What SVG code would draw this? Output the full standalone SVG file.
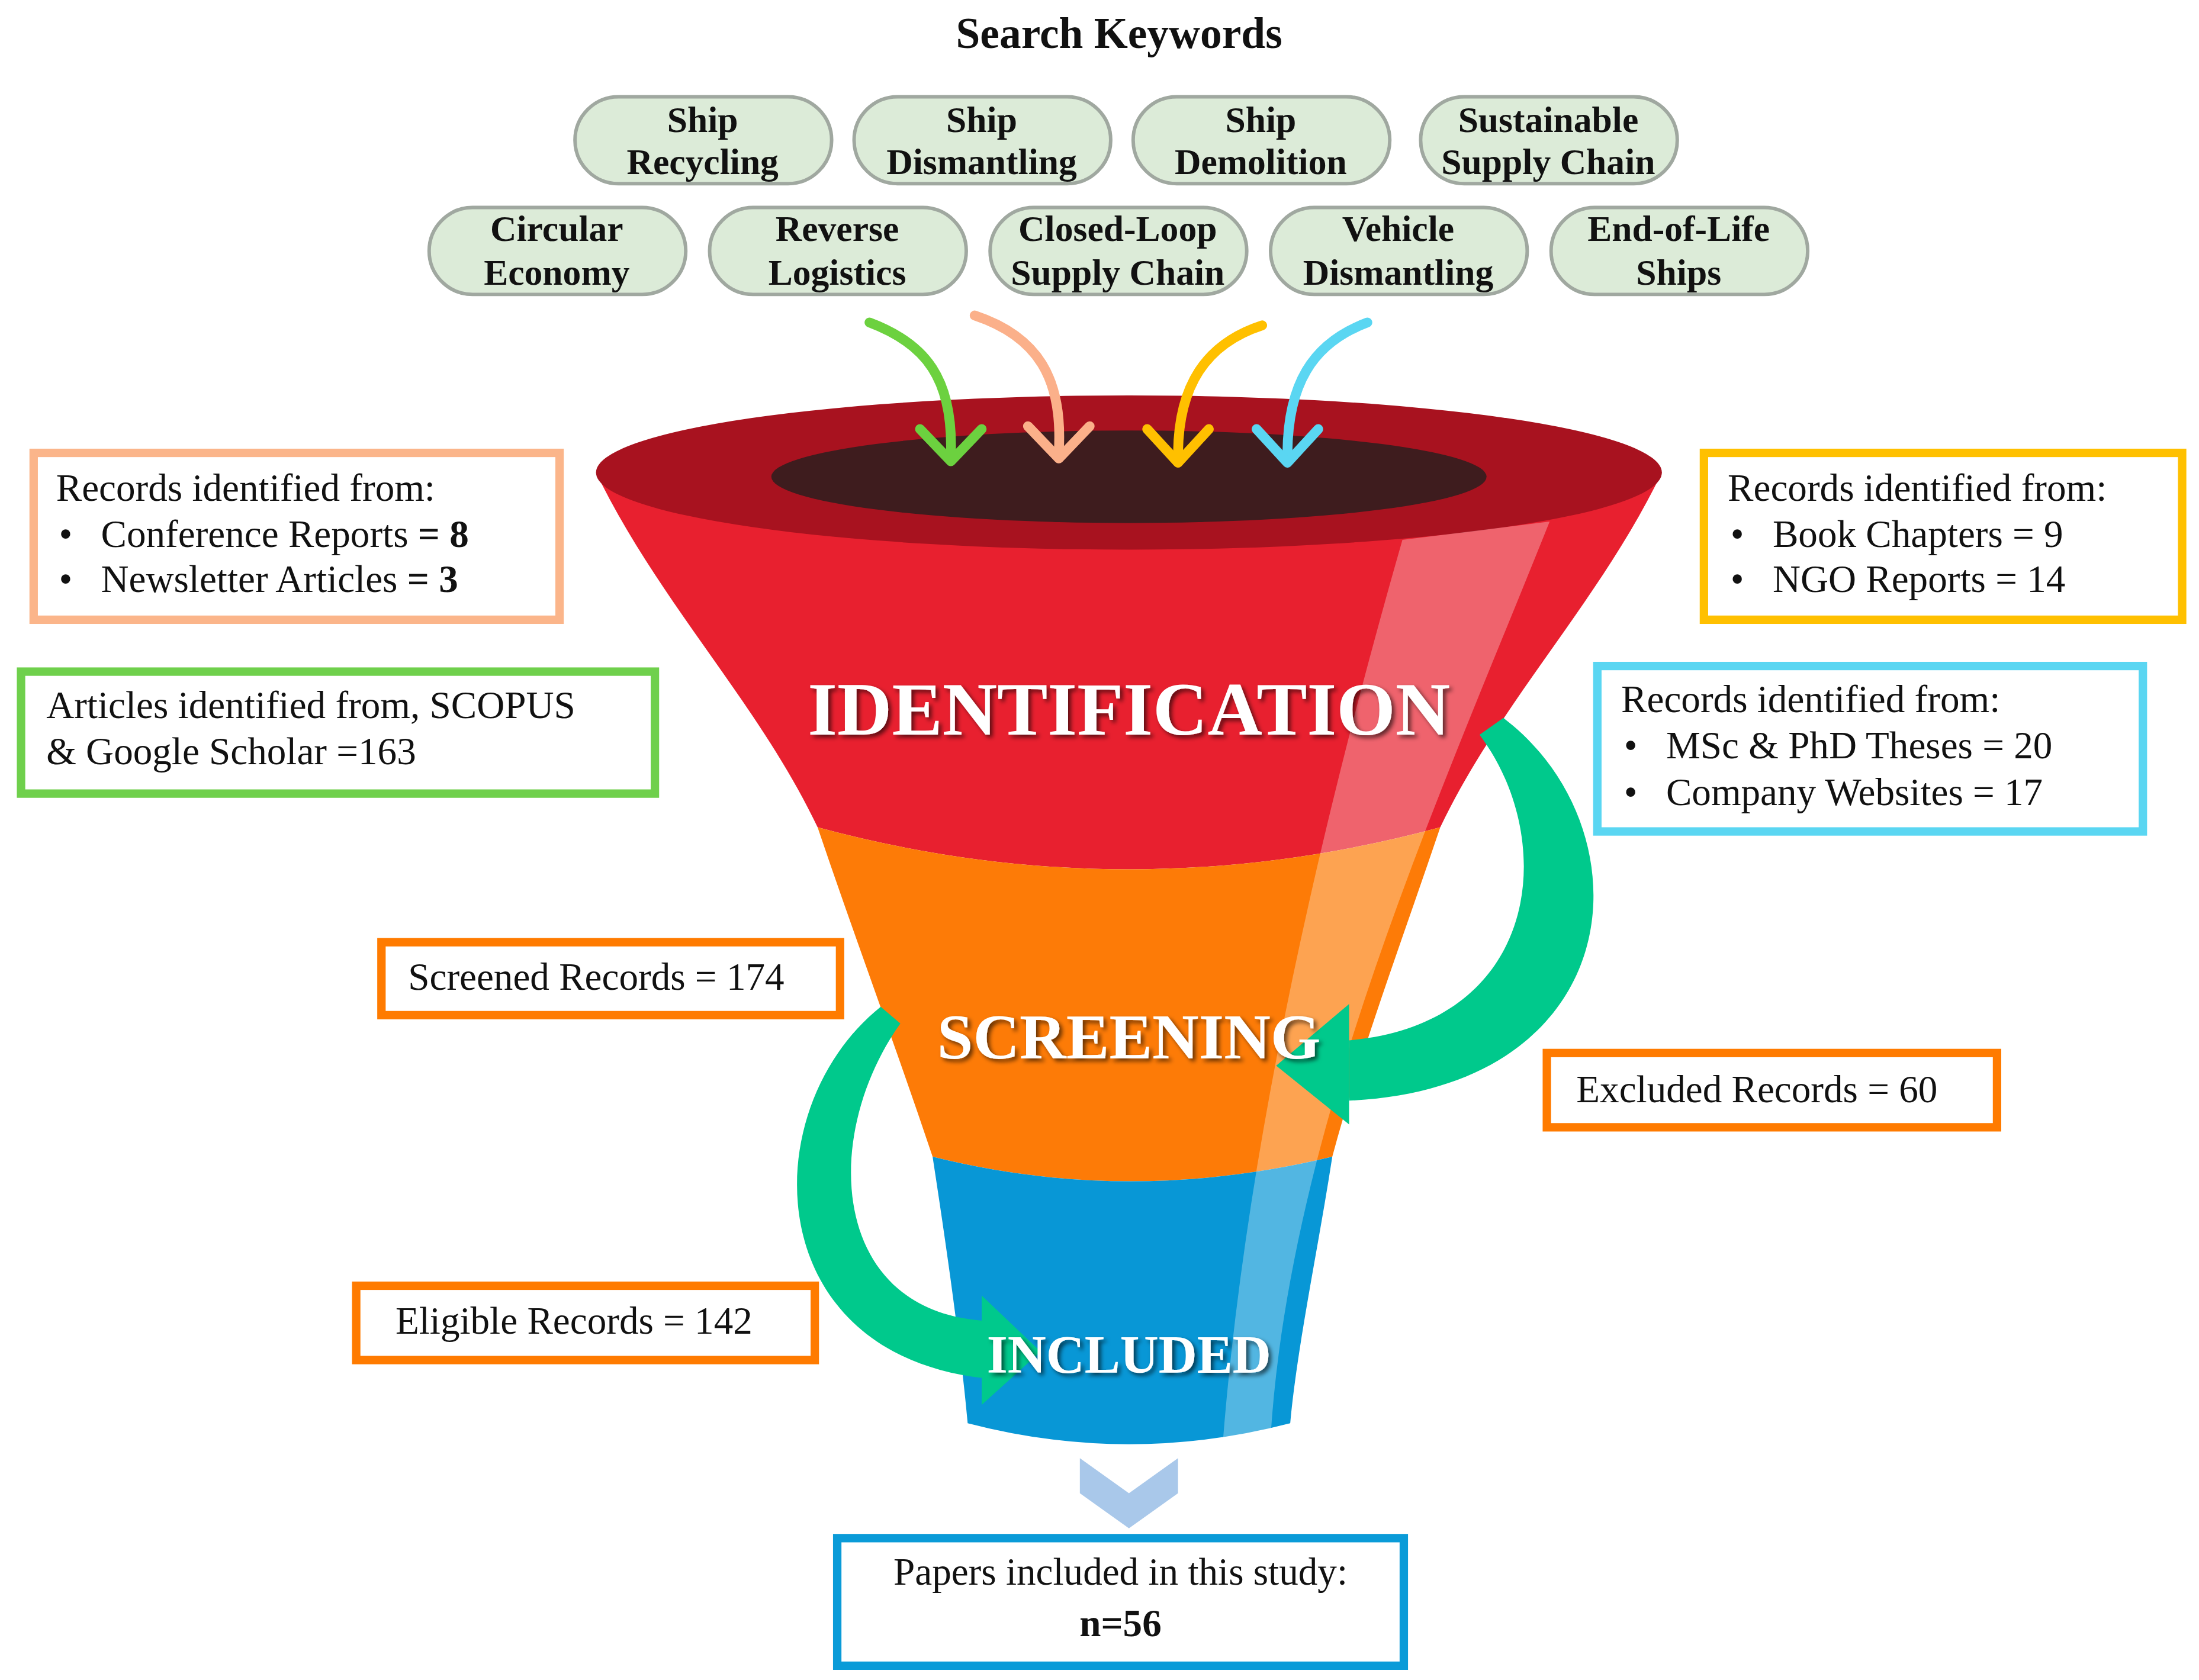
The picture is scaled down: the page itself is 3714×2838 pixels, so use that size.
<svg xmlns="http://www.w3.org/2000/svg" width="3714" height="2838" viewBox="0 0 3714 2838">
<style>
.pill{fill:#dcebd8;stroke:#a0a8a0;stroke-width:2.5}
.pt{font-family:"Liberation Serif",serif;font-weight:bold;font-size:26px;fill:#111;text-anchor:middle}
.bt{font-family:"Liberation Serif",serif;font-size:27.5px;fill:#111}
.box{fill:#fff;stroke-width:6}
.ft{font-family:"Liberation Serif",serif;font-weight:bold;fill:#fff;text-anchor:middle}
.ka{fill:none;stroke-width:7;stroke-linecap:round;stroke-linejoin:round}
.tl{fill:#00c98c}
</style>
<defs>
<filter id="sh"><feDropShadow dx="2" dy="2" stdDeviation="1.5" flood-color="#000" flood-opacity="0.6"/></filter>
</defs>
<rect width="3714" height="2838" fill="#fff"/>
<g transform="scale(2.3686)">
<text x="798" y="34" class="pt" style="font-size:31px">Search Keywords</text>
<g id="kw1"><rect x="410" y="69" width="183" height="62" rx="31" class="pill"/><text x="501" y="94" class="pt">Ship</text><text x="501" y="124" class="pt">Recycling</text></g>
<g id="kw2"><rect x="609" y="69" width="183" height="62" rx="31" class="pill"/><text x="700" y="94" class="pt">Ship</text><text x="700" y="124" class="pt">Dismantling</text></g>
<g id="kw3"><rect x="808" y="69" width="183" height="62" rx="31" class="pill"/><text x="899" y="94" class="pt">Ship</text><text x="899" y="124" class="pt">Demolition</text></g>
<g id="kw4"><rect x="1013" y="69" width="183" height="62" rx="31" class="pill"/><text x="1104" y="94" class="pt">Sustainable</text><text x="1104" y="124" class="pt">Supply Chain</text></g>
<g id="kw5"><rect x="306" y="148" width="183" height="62" rx="31" class="pill"/><text x="397" y="172" class="pt">Circular</text><text x="397" y="203" class="pt">Economy</text></g>
<g id="kw6"><rect x="506" y="148" width="183" height="62" rx="31" class="pill"/><text x="597" y="172" class="pt">Reverse</text><text x="597" y="203" class="pt">Logistics</text></g>
<g id="kw7"><rect x="706" y="148" width="183" height="62" rx="31" class="pill"/><text x="797" y="172" class="pt">Closed-Loop</text><text x="797" y="203" class="pt">Supply Chain</text></g>
<g id="kw8"><rect x="906" y="148" width="183" height="62" rx="31" class="pill"/><text x="997" y="172" class="pt">Vehicle</text><text x="997" y="203" class="pt">Dismantling</text></g>
<g id="kw9"><rect x="1106" y="148" width="183" height="62" rx="31" class="pill"/><text x="1197" y="172" class="pt">End-of-Life</text><text x="1197" y="203" class="pt">Ships</text></g>

<g id="funnel">
<path d="M425,337 C470,430 540,500 583,590 Q805,650 1027,590 C1070,500 1140,430 1185,337 Z" fill="#e8202f"/>
<path d="M583,590 Q805,650 1027,590 C1000,670 970,750 950,825 Q805,860 665,825 C640,750 610,670 583,590 Z" fill="#fd7b07"/>
<path d="M665,825 Q805,860 950,825 C940,890 925,960 920,1015 Q805,1045 690,1015 C685,960 675,890 665,825 Z" fill="#0897d6"/>
<ellipse cx="805" cy="337" rx="380" ry="55" fill="#a8121f"/>
<ellipse cx="805" cy="340" rx="255" ry="33" fill="#3e1c1e"/>
<path d="M1000,385 C950,560 890,800 872,1028 L906,1025 C920,800 1030,560 1105,372 Z" fill="#fff" opacity="0.3"/>
</g>

<g id="connectors">
<path class="ka" stroke="#6cd13f" d="M620,230 C660,245 680,270 678,325"/><polyline class="ka" stroke="#6cd13f" points="656,306 678,329 700,306"/>
<path class="ka" stroke="#fbb08a" d="M695,225 C740,240 758,270 755,322"/><polyline class="ka" stroke="#fbb08a" points="733,304 755,327 777,304"/>
<path class="ka" stroke="#ffc000" d="M900,232 C860,245 840,275 840,325"/><polyline class="ka" stroke="#ffc000" points="818,306 840,330 862,306"/>
<path class="ka" stroke="#5ad6f2" d="M975,230 C935,245 918,275 918,325"/><polyline class="ka" stroke="#5ad6f2" points="896,306 918,330 940,306"/>
<path class="tl" d="M1072,512 C1175,590 1165,775 962,785 L962,742 C1098,730 1112,600 1055,524 Z"/>
<polygon class="tl" points="962,716 962,802 910,760"/>
<path class="tl" d="M628,718 C538,790 540,965 702,983 L702,942 C592,935 585,810 642,730 Z"/>
<polygon class="tl" points="700,924 700,1002 742,964"/>
<polygon points="770,1040 805,1065 840,1040 840,1065 805,1090 770,1065" fill="#a9c8ea"/>
</g>

<g id="labels">
<text x="805" y="524" class="ft" style="font-size:54px" filter="url(#sh)">IDENTIFICATION</text>
<text x="805" y="755" class="ft" style="font-size:46px" filter="url(#sh)">SCREENING</text>
<text x="805" y="979" class="ft" style="font-size:38px" filter="url(#sh)">INCLUDED</text>
</g>

<g id="b1"><rect x="24" y="323" width="375" height="119" class="box" stroke="#fbb58a"/>
<text x="40" y="357" class="bt">Records identified from:</text>
<text x="42" y="390" class="bt">•</text><text x="72" y="390" class="bt">Conference Reports <tspan font-weight="bold">= 8</tspan></text>
<text x="42" y="422" class="bt">•</text><text x="72" y="422" class="bt">Newsletter Articles <tspan font-weight="bold">= 3</tspan></text></g>
<g id="b2"><rect x="15" y="479" width="452" height="87" class="box" stroke="#6fd04c"/>
<text x="33" y="512" class="bt">Articles identified from, SCOPUS</text>
<text x="33" y="545" class="bt">&amp; Google Scholar =163</text></g>
<g id="b3"><rect x="1215" y="323" width="341" height="119" class="box" stroke="#ffc000"/>
<text x="1232" y="357" class="bt">Records identified from:</text>
<text x="1234" y="390" class="bt">•</text><text x="1264" y="390" class="bt">Book Chapters = 9</text>
<text x="1234" y="422" class="bt">•</text><text x="1264" y="422" class="bt">NGO Reports = 14</text></g>
<g id="b4"><rect x="1139" y="475" width="389" height="118" class="box" stroke="#5ad6f2"/>
<text x="1156" y="508" class="bt">Records identified from:</text>
<text x="1158" y="541" class="bt">•</text><text x="1188" y="541" class="bt">MSc &amp; PhD Theses = 20</text>
<text x="1158" y="574" class="bt">•</text><text x="1188" y="574" class="bt">Company Websites = 17</text></g>
<g id="b5"><rect x="272" y="672" width="327" height="52" class="box" stroke="#ff7b00"/>
<text x="291" y="706" class="bt">Screened Records = 174</text></g>
<g id="b6"><rect x="1103" y="751" width="321" height="53" class="box" stroke="#ff7b00"/>
<text x="1124" y="786" class="bt">Excluded  Records = 60</text></g>
<g id="b7"><rect x="254" y="917" width="327" height="53" class="box" stroke="#ff7b00"/>
<text x="282" y="951" class="bt">Eligible Records = 142</text></g>
<g id="b8"><rect x="597" y="1097" width="404" height="91" class="box" stroke="#0a9bd8"/>
<text x="799" y="1130" class="bt" text-anchor="middle">Papers included in this study:</text>
<text x="799" y="1167" class="bt" text-anchor="middle" font-weight="bold" font-size="30">n=56</text></g>
</g>
</svg>
